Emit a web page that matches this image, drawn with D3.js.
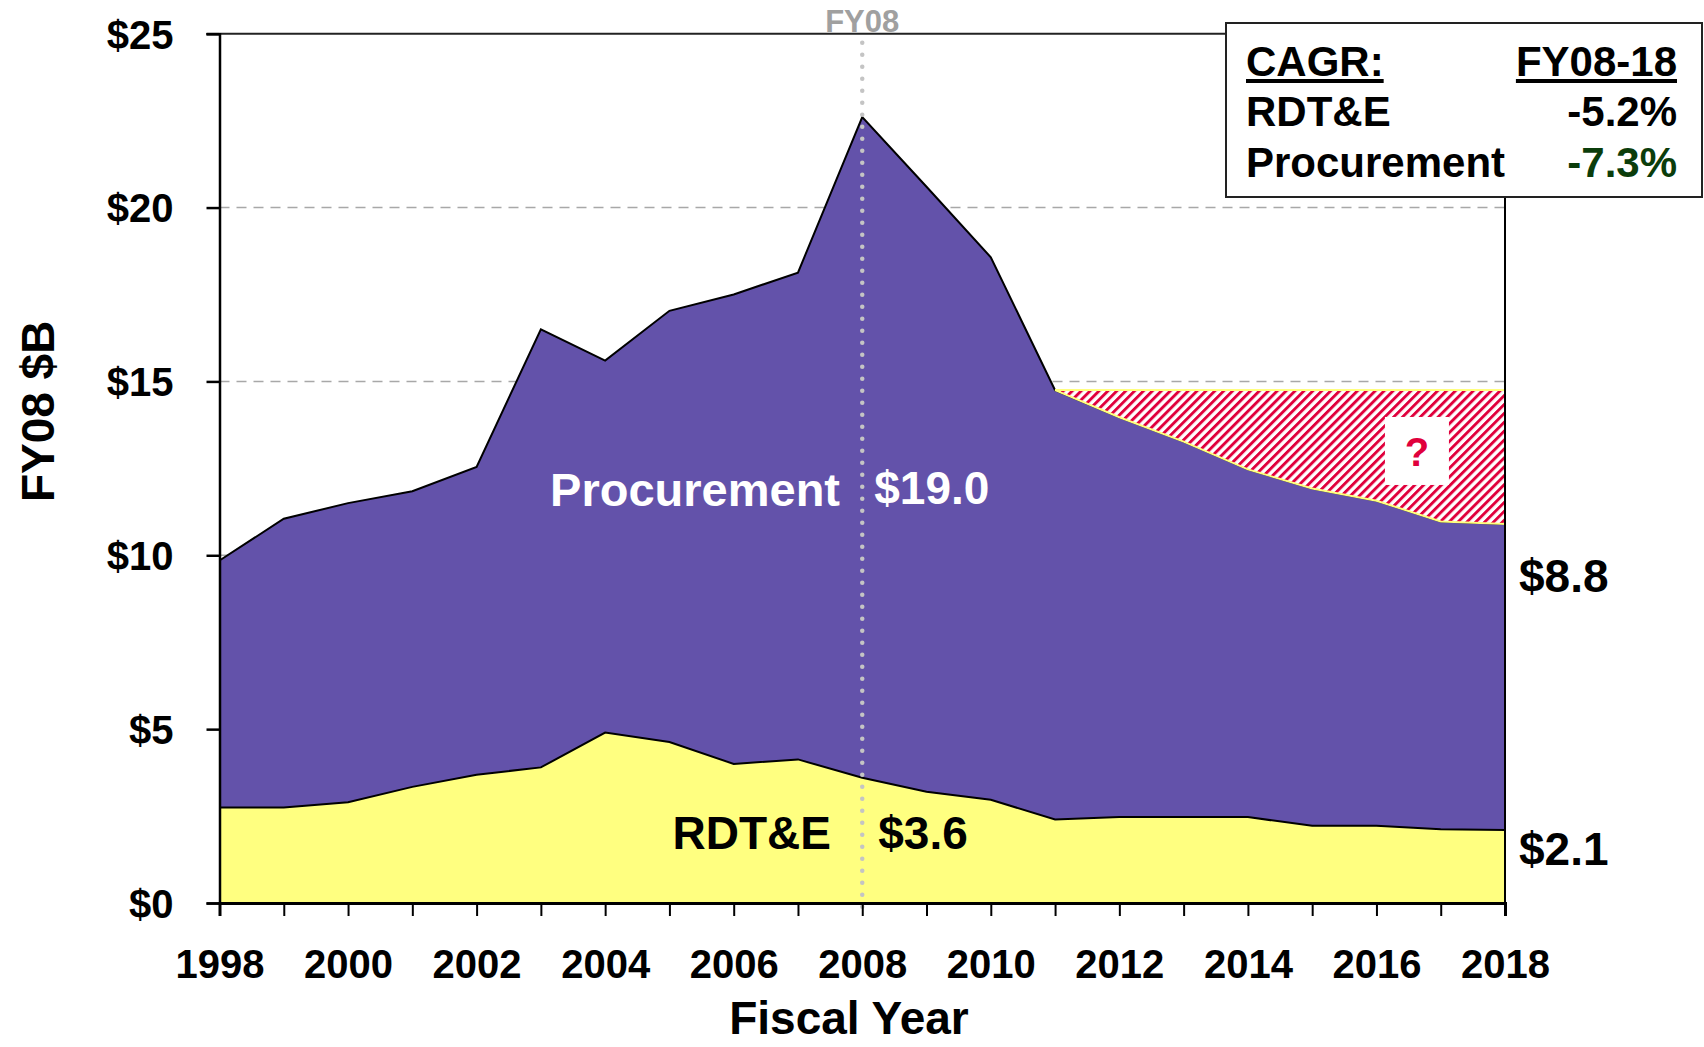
<!DOCTYPE html>
<html>
<head>
<meta charset="utf-8">
<script src="https://cdn.jsdelivr.net/npm/d3@7"></script>
<style>
  html, body { margin: 0; padding: 0; background: #fff; }
  svg { display: block; font-family: "Liberation Sans", Arial, sans-serif; font-weight: bold; }
</style>
</head>
<body>
<svg id="chart" width="1704" height="1047"></svg>
<script>
// Fiscal years, FY08 constant dollars ($B)
const years = [1998, 1999, 2000, 2001, 2002, 2003, 2004, 2005, 2006, 2007, 2008,
               2009, 2010, 2011, 2012, 2013, 2014, 2015, 2016, 2017, 2018];
const rdte = [2.75, 2.75, 2.9, 3.34, 3.69, 3.9, 4.9, 4.63, 4.0, 4.13, 3.6,
              3.2, 2.97, 2.4, 2.47, 2.47, 2.47, 2.22, 2.22, 2.12, 2.1];
const procurement = [7.1, 8.3, 8.6, 8.5, 8.85, 12.6, 10.7, 12.4, 13.5, 14.0, 19.0,
                     17.4, 15.6, 12.35, 11.5, 10.8, 10.0, 9.7, 9.35, 8.85, 8.8];
const yTicks = [0, 5, 10, 15, 20, 25];
const xTickLabels = [1998, 2000, 2002, 2004, 2006, 2008, 2010, 2012, 2014, 2016, 2018];
const gapStartYear = 2011;   // shortfall measured against the FY11 total
const markerYear = 2008;
const cagrRows = [
  { name: "RDT&E", value: "-5.2%", color: "#000" },
  { name: "Procurement", value: "-7.3%", color: "#0b3d0b" }
];

const svg = d3.select("#chart");
const plotL = 219.5, plotR = 1505, plotT = 33.7, plotB = 903;

const x = d3.scaleLinear().domain([1998, 2018]).range([plotL, plotR]);
const y = d3.scaleLinear().domain([0, 25]).range([plotB, plotT]);

const rows = years.map((yr, i) => ({ year: yr, rdte: rdte[i], procurement: procurement[i] }));
const stack = d3.stack().keys(["rdte", "procurement"]);
const series = stack(rows);

// Diagonal hatch for the funding gap
const defs = svg.append("defs");
const pat = defs.append("pattern")
  .attr("id", "hatch")
  .attr("patternUnits", "userSpaceOnUse")
  .attr("width", 6.3).attr("height", 6.3)
  .attr("patternTransform", "rotate(45)");
pat.append("rect").attr("width", 6.3).attr("height", 6.3).attr("fill", "#fff");
pat.append("rect").attr("width", 2.9).attr("height", 6.3).attr("fill", "#e0003c");

// Gridlines
svg.append("g").selectAll("line")
  .data(yTicks.filter(v => v > 0 && v < 25))
  .join("line")
  .attr("x1", plotL).attr("x2", plotR)
  .attr("y1", d => y(d)).attr("y2", d => y(d))
  .attr("stroke", "#a8a8a8").attr("stroke-width", 1.5)
  .attr("stroke-dasharray", "10,7");

// Stacked areas
const area = d3.area()
  .x(d => x(d.data.year))
  .y0(d => y(d[0]))
  .y1(d => y(d[1]));
const fills = ["#ffff80", "#6352aa"];
svg.append("g").selectAll("path")
  .data(series)
  .join("path")
  .attr("d", area)
  .attr("fill", (d, i) => fills[i]);

// Outlines on top of each layer
const topLine = d3.line().x(d => x(d.data.year)).y(d => y(d[1]));
svg.append("g").selectAll("path")
  .data(series)
  .join("path")
  .attr("d", topLine)
  .attr("fill", "none")
  .attr("stroke", "#000")
  .attr("stroke-width", 2);

// Funding gap: between the projected total and the FY11 level
const totals = rows.map(r => ({ year: r.year, total: r.rdte + r.procurement }));
const gapLevel = totals.find(t => t.year === gapStartYear).total;
const gapRows = totals.filter(t => t.year >= gapStartYear);
svg.append("path")
  .datum(gapRows)
  .attr("d", d3.area().x(d => x(d.year)).y0(d => y(d.total)).y1(() => y(gapLevel)))
  .attr("fill", "url(#hatch)")
  .attr("stroke", "#ffff80")
  .attr("stroke-width", 2);

// Question mark box inside the gap
const qx = x(2016.63), qy = y(13);
svg.append("rect")
  .attr("x", qx - 32).attr("y", qy - 34)
  .attr("width", 64).attr("height", 68)
  .attr("fill", "#fff");
svg.append("text")
  .attr("x", qx).attr("y", qy + 15)
  .attr("text-anchor", "middle")
  .attr("font-size", 40)
  .attr("fill", "#e0003c")
  .text("?");

// FY08 marker
svg.append("line")
  .attr("x1", x(markerYear)).attr("x2", x(markerYear))
  .attr("y1", plotT + 9).attr("y2", plotB + 8)
  .attr("stroke", "#c4c4c4").attr("stroke-width", 4.5)
  .attr("stroke-linecap", "round")
  .attr("stroke-dasharray", "0,12");
svg.append("text")
  .attr("x", x(markerYear)).attr("y", plotT - 2)
  .attr("text-anchor", "middle")
  .attr("font-size", 31)
  .attr("fill", "#a0a0a0")
  .text("FY08");

// Frame: top and right
svg.append("line")
  .attr("x1", plotL - 13).attr("x2", plotR)
  .attr("y1", plotT).attr("y2", plotT)
  .attr("stroke", "#222").attr("stroke-width", 2);
svg.append("line")
  .attr("x1", plotR).attr("x2", plotR)
  .attr("y1", plotT).attr("y2", plotB)
  .attr("stroke", "#000").attr("stroke-width", 2);

// Y axis
const yAxis = d3.axisLeft(y)
  .tickValues(yTicks)
  .tickSize(13)
  .tickPadding(33)
  .tickFormat(d => "$" + d);
const gy = svg.append("g").attr("transform", `translate(${plotL},0)`).call(yAxis);
gy.select(".domain").attr("stroke", "#000").attr("stroke-width", 2.5);
gy.selectAll(".tick line").attr("stroke", "#000").attr("stroke-width", 2.5);
gy.selectAll(".tick text")
  .attr("font-size", 40).attr("font-family", "Liberation Sans, Arial, sans-serif")
  .attr("font-weight", "bold").attr("fill", "#000").attr("dy", "0.36em");

// X axis
const xAxis = d3.axisBottom(x)
  .tickValues(years)
  .tickSize(13)
  .tickPadding(34)
  .tickFormat(d => xTickLabels.includes(d) ? String(d) : "");
const gx = svg.append("g").attr("transform", `translate(0,${plotB})`).call(xAxis);
gx.select(".domain").attr("stroke", "#000").attr("stroke-width", 3);
gx.selectAll(".tick line").attr("stroke", "#000").attr("stroke-width", 2);
gx.selectAll(".tick text")
  .attr("font-size", 40).attr("font-family", "Liberation Sans, Arial, sans-serif")
  .attr("font-weight", "bold").attr("fill", "#000");

// Axis titles
svg.append("text")
  .attr("x", 849).attr("y", 1034)
  .attr("text-anchor", "middle")
  .attr("font-size", 46)
  .text("Fiscal Year");
svg.append("text")
  .attr("transform", `translate(54,${(plotT + plotB) / 2 - 57}) rotate(-90)`)
  .attr("text-anchor", "middle")
  .attr("font-size", 46)
  .text("FY08 $B");

// Series and value labels
const i08 = years.indexOf(markerYear), i18 = years.length - 1;
svg.append("text")
  .attr("x", 840).attr("y", 506)
  .attr("text-anchor", "end").attr("font-size", 47).attr("fill", "#fff")
  .text("Procurement");
svg.append("text")
  .attr("x", x(markerYear) + 12).attr("y", 504)
  .attr("font-size", 46).attr("fill", "#fff")
  .text("$" + procurement[i08].toFixed(1));
svg.append("text")
  .attr("x", 831).attr("y", 849)
  .attr("text-anchor", "end").attr("font-size", 46).attr("fill", "#000")
  .text("RDT&E");
svg.append("text")
  .attr("x", x(markerYear) + 16).attr("y", 849)
  .attr("font-size", 46).attr("fill", "#000")
  .text("$" + rdte[i08].toFixed(1));
svg.append("text")
  .attr("x", x(2018) + 14).attr("y", 592)
  .attr("font-size", 46).attr("fill", "#000")
  .text("$" + procurement[i18].toFixed(1));
svg.append("text")
  .attr("x", x(2018) + 14).attr("y", 865)
  .attr("font-size", 46).attr("fill", "#000")
  .text("$" + rdte[i18].toFixed(1));

// CAGR table
const box = svg.append("g");
box.append("rect")
  .attr("x", 1226).attr("y", 23)
  .attr("width", 476).attr("height", 174)
  .attr("fill", "#fff").attr("stroke", "#222").attr("stroke-width", 2);
const colL = 1246, colR = 1677;
const head1 = box.append("text").attr("x", colL).attr("y", 76).attr("font-size", 42).text("CAGR:");
const head2 = box.append("text").attr("x", colR).attr("y", 76).attr("font-size", 42)
  .attr("text-anchor", "end").text("FY08-18");
[head1, head2].forEach(t => {
  const b = t.node().getBBox();
  box.append("rect").attr("x", b.x).attr("y", 79).attr("width", b.width).attr("height", 4).attr("fill", "#000");
});
cagrRows.forEach((r, i) => {
  const by = 126 + i * 51;
  box.append("text").attr("x", colL).attr("y", by).attr("font-size", 42).text(r.name);
  box.append("text").attr("x", colR).attr("y", by).attr("font-size", 42)
    .attr("text-anchor", "end").attr("fill", r.color).text(r.value);
});
</script>
</body>
</html>
